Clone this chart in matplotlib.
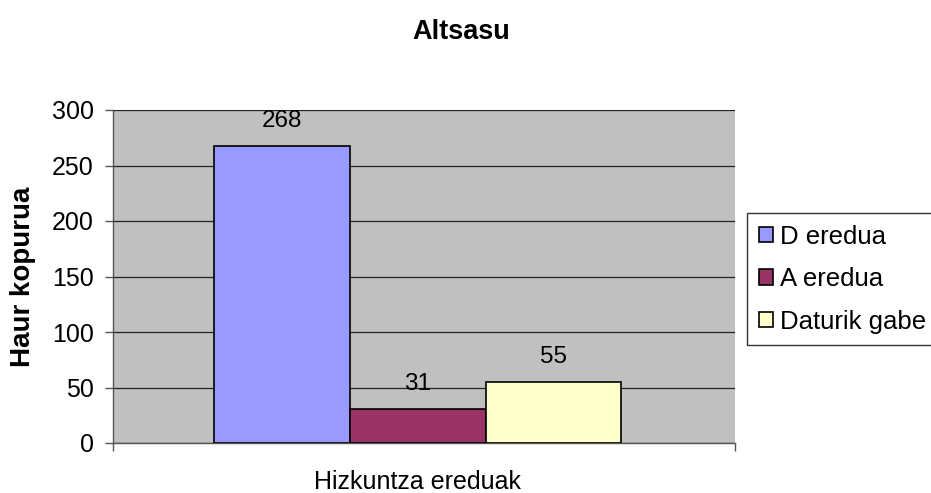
import matplotlib.pyplot as plt

# data
series = ['D eredua', 'A eredua', 'Daturik gabe']
values = [268, 31, 55]
colors = ['#9999FF', '#993366', '#FFFFCC']
category = 'Hizkuntza ereduak'

plt.rcParams['font.family'] = ['Liberation Sans', 'DejaVu Sans']

W, H = 931, 493
fig = plt.figure(figsize=(W / 100, H / 100), dpi=100)

# plot area in pixels: left 113, right 735, top 110, bottom 443
ax = fig.add_axes([113 / W, (H - 443) / H, (735 - 113) / W, (443 - 110) / H])
ax.set_facecolor('#C0C0C0')

bar_w = 0.218
offsets = [-bar_w, 0, bar_w]
for name, val, col, off in zip(series, values, colors, offsets):
    ax.bar(off - 0.01, val, width=bar_w, color=col, edgecolor='black',
           linewidth=1.2, label=name, zorder=3)
    ax.annotate(str(val), (off - 0.01, val), xytext=(0, 10),
                textcoords='offset points', ha='center', va='bottom',
                fontsize=17.5, zorder=4)

ax.set_xlim(-0.5, 0.5)
ax.set_ylim(0, 300)
ax.set_yticks(range(0, 301, 50))
ax.set_xticks([-0.5, 0.5])
ax.set_xticklabels(['', ''])
ax.yaxis.grid(True, color='#222222', linewidth=0.9, zorder=0)
ax.set_axisbelow(True)

for s in ['top', 'right']:
    ax.spines[s].set_visible(False)
for s in ['left', 'bottom']:
    ax.spines[s].set_color('#555555')
    ax.spines[s].set_linewidth(1)
ax.tick_params(axis='y', direction='out', length=6, width=1, color='#555555',
               labelsize=18, pad=8)
ax.tick_params(axis='x', direction='out', length=6, width=1, color='#555555')

fig.text(23 / W, 1 - 277 / H, 'Haur kopurua', ha='center', va='center',
         rotation=90, fontsize=20, fontweight='bold')
fig.text(418 / W, 1 - 482 / H, category, ha='center', va='center', fontsize=18)
fig.text(461 / W, 1 - 32 / H, 'Altsasu', ha='center', va='center',
         fontsize=19.5, fontweight='bold')

leg = fig.legend(loc='upper left', bbox_to_anchor=(747 / W, 1 - 213 / H),
                 fontsize=18.5, frameon=True, fancybox=False, edgecolor='black',
                 handlelength=0.55, handleheight=0.55, handletextpad=0.3,
                 labelspacing=0.72, borderpad=0.45, borderaxespad=0)
leg.get_frame().set_linewidth(1)

fig.savefig('out.png', dpi=100)
